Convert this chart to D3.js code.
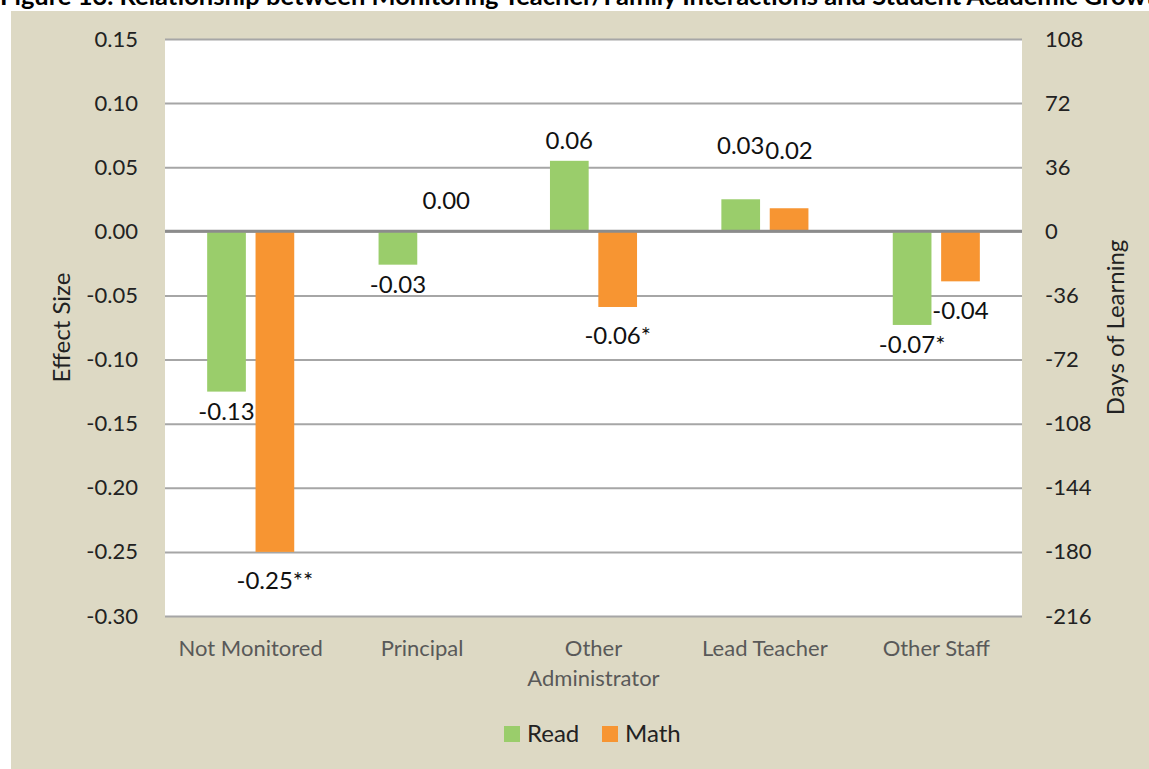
<!DOCTYPE html>
<html>
<head>
<meta charset="utf-8">
<script src="https://cdn.jsdelivr.net/npm/d3@7"></script>
<style>
  body { margin: 0; background: #fff; }
  svg text { font-family: "Source Sans Pro", Lato, "Noto Sans", sans-serif; }
</style>
</head>
<body>
<div id="chart"></div>
<script>
// Data
const categories = ["Not Monitored", "Principal", "Other Administrator", "Lead Teacher", "Other Staff"];
const series = ["Read", "Math"];
const readValues = [-0.125, -0.026, 0.055, 0.025, -0.073];
const mathValues = [-0.25, 0.001, -0.059, 0.018, -0.039];
const readLabels = ["-0.13", "-0.03", "0.06", "0.03", "-0.07*"];
const mathLabels = ["-0.25**", "0.00", "-0.06*", "0.02", "-0.04"];
const leftTicks = [0.15, 0.10, 0.05, 0.00, -0.05, -0.10, -0.15, -0.20, -0.25, -0.30];
const rightTicks = [108, 72, 36, 0, -36, -72, -108, -144, -180, -216];
const title = "Figure 13. Relationship between Monitoring Teacher/Family Interactions and Student Academic Growth";

const width = 1149;
const height = 769;
const margin = { top: 39, right: 127, bottom: 153, left: 165 };

const svg = d3.select("#chart").append("svg")
  .attr("width", width)
  .attr("height", height);

// Background panel
svg.append("rect")
  .attr("x", 11).attr("y", 11)
  .attr("width", width - 11).attr("height", height - 11)
  .attr("fill", "#ddd9c4");

// Title, cut off at the top edge as in the source
svg.append("text")
  .attr("x", 0)
  .attr("y", 5)
  .attr("font-size", 25.5)
  .attr("font-weight", "bold")
  .attr("fill", "#000")
  .text(title);

// Plot area
svg.append("rect")
  .attr("x", margin.left).attr("y", margin.top)
  .attr("width", width - margin.left - margin.right)
  .attr("height", height - margin.top - margin.bottom)
  .attr("fill", "#fff");

// Scales
const x0 = d3.scaleBand()
  .domain(categories)
  .range([margin.left, width - margin.right])
  .paddingInner(0.492)
  .paddingOuter(0.246);

const x1 = d3.scaleBand()
  .domain(series)
  .range([0, x0.bandwidth()])
  .paddingInner(0.2);

const y = d3.scaleLinear()
  .domain([-0.30, 0.15])
  .range([height - margin.bottom, margin.top]);

const yRight = d3.scaleLinear()
  .domain([-216, 108])
  .range([height - margin.bottom, margin.top]);

const color = d3.scaleOrdinal()
  .domain(series)
  .range(["#9acd6b", "#f79532"]);

// Gridlines
const grid = svg.append("g")
  .attr("transform", `translate(${margin.left},0)`)
  .call(d3.axisLeft(y).tickValues(leftTicks).tickSize(-(width - margin.left - margin.right)).tickFormat(""));
grid.select(".domain").remove();
grid.selectAll(".tick line")
  .attr("stroke", "#a6a6a6")
  .attr("stroke-width", 2);

// Left axis labels
const yAxis = svg.append("g")
  .attr("transform", `translate(${margin.left - 27},0)`)
  .call(d3.axisLeft(y).tickValues(leftTicks).tickSize(0).tickFormat(d3.format(".2f")));
yAxis.select(".domain").remove();
yAxis.selectAll("text")
  .attr("font-size", 22)
  .attr("fill", "#222")
  .attr("x", 0)
  .text(d => d3.format(".2f")(d).replace("−", "-"));

// Right axis labels
const yAxisR = svg.append("g")
  .attr("transform", `translate(${width - margin.right + 23},0)`)
  .call(d3.axisRight(yRight).tickValues(rightTicks).tickSize(0));
yAxisR.select(".domain").remove();
yAxisR.selectAll("text")
  .attr("font-size", 22)
  .attr("fill", "#222")
  .attr("x", 0)
  .text(d => String(d));

// Bars
const rows = categories.map((c, i) => ({
  category: c,
  values: [
    { key: "Read", value: readValues[i], label: readLabels[i] },
    { key: "Math", value: mathValues[i], label: mathLabels[i] }
  ]
}));

const gCat = svg.append("g")
  .selectAll("g")
  .data(rows)
  .enter()
  .append("g")
    .attr("transform", d => `translate(${x0(d.category)},0)`);

gCat.selectAll("rect")
  .data(d => d.values)
  .enter()
  .append("rect")
    .attr("x", d => x1(d.key))
    .attr("y", d => y(Math.max(0, d.value)))
    .attr("width", x1.bandwidth())
    .attr("height", d => Math.abs(y(d.value) - y(0)))
    .attr("fill", d => color(d.key));

// Zero line
svg.append("line")
  .attr("x1", margin.left)
  .attr("x2", width - margin.right)
  .attr("y1", y(0))
  .attr("y2", y(0))
  .attr("stroke", "#8c8c8c")
  .attr("stroke-width", 3);

// Value labels (some labels were dragged further from the bar)
const labelGap = { Read: 20, Math: 29 };
const extraGap = { "Lead Teacher": { Read: 34, Math: 29 } };
gCat.each(function(row) {
  d3.select(this).selectAll("text.val")
    .data(row.values)
    .enter()
    .append("text")
      .attr("class", "val")
      .attr("x", d => x1(d.key) + x1.bandwidth() / 2)
      .attr("y", d => {
        const extra = extraGap[row.category] ? extraGap[row.category][d.key] : 0;
        const gap = labelGap[d.key] + extra;
        return d.value >= 0 ? y(d.value) - gap : y(d.value) + gap;
      })
      .attr("dy", "0.35em")
      .attr("text-anchor", "middle")
      .attr("font-size", 24)
      .attr("fill", "#111")
      .text(d => d.label);
});

// Category labels
const xLabels = svg.append("g");
categories.forEach(c => {
  const words = c === "Other Administrator" ? ["Other", "Administrator"] : [c];
  words.forEach((w, j) => {
    xLabels.append("text")
      .attr("x", x0(c) + x0.bandwidth() / 2)
      .attr("y", height - margin.bottom + 32 + j * 30)
      .attr("dy", "0.35em")
      .attr("text-anchor", "middle")
      .attr("font-size", 22)
      .attr("fill", "#595959")
      .text(w);
  });
});

// Axis titles
svg.append("text")
  .attr("transform", "rotate(-90)")
  .attr("x", -(margin.top + (height - margin.top - margin.bottom) / 2))
  .attr("y", 62)
  .attr("dy", "0.35em")
  .attr("text-anchor", "middle")
  .attr("font-size", 24)
  .attr("fill", "#222")
  .text("Effect Size");

svg.append("text")
  .attr("transform", "rotate(-90)")
  .attr("x", -(margin.top + (height - margin.top - margin.bottom) / 2))
  .attr("y", 1116)
  .attr("dy", "0.35em")
  .attr("text-anchor", "middle")
  .attr("font-size", 24)
  .attr("fill", "#222")
  .text("Days of Learning");

// Legend
const legend = svg.append("g")
  .attr("transform", "translate(504, 734)");
const legendX = [0, 98];
series.forEach((s, i) => {
  legend.append("rect")
    .attr("x", legendX[i])
    .attr("y", -8)
    .attr("width", 16)
    .attr("height", 16)
    .attr("fill", color(s));
  legend.append("text")
    .attr("x", legendX[i] + 23)
    .attr("y", 0)
    .attr("dy", "0.35em")
    .attr("font-size", 24)
    .attr("fill", "#222")
    .text(s);
});
</script>
</body>
</html>
